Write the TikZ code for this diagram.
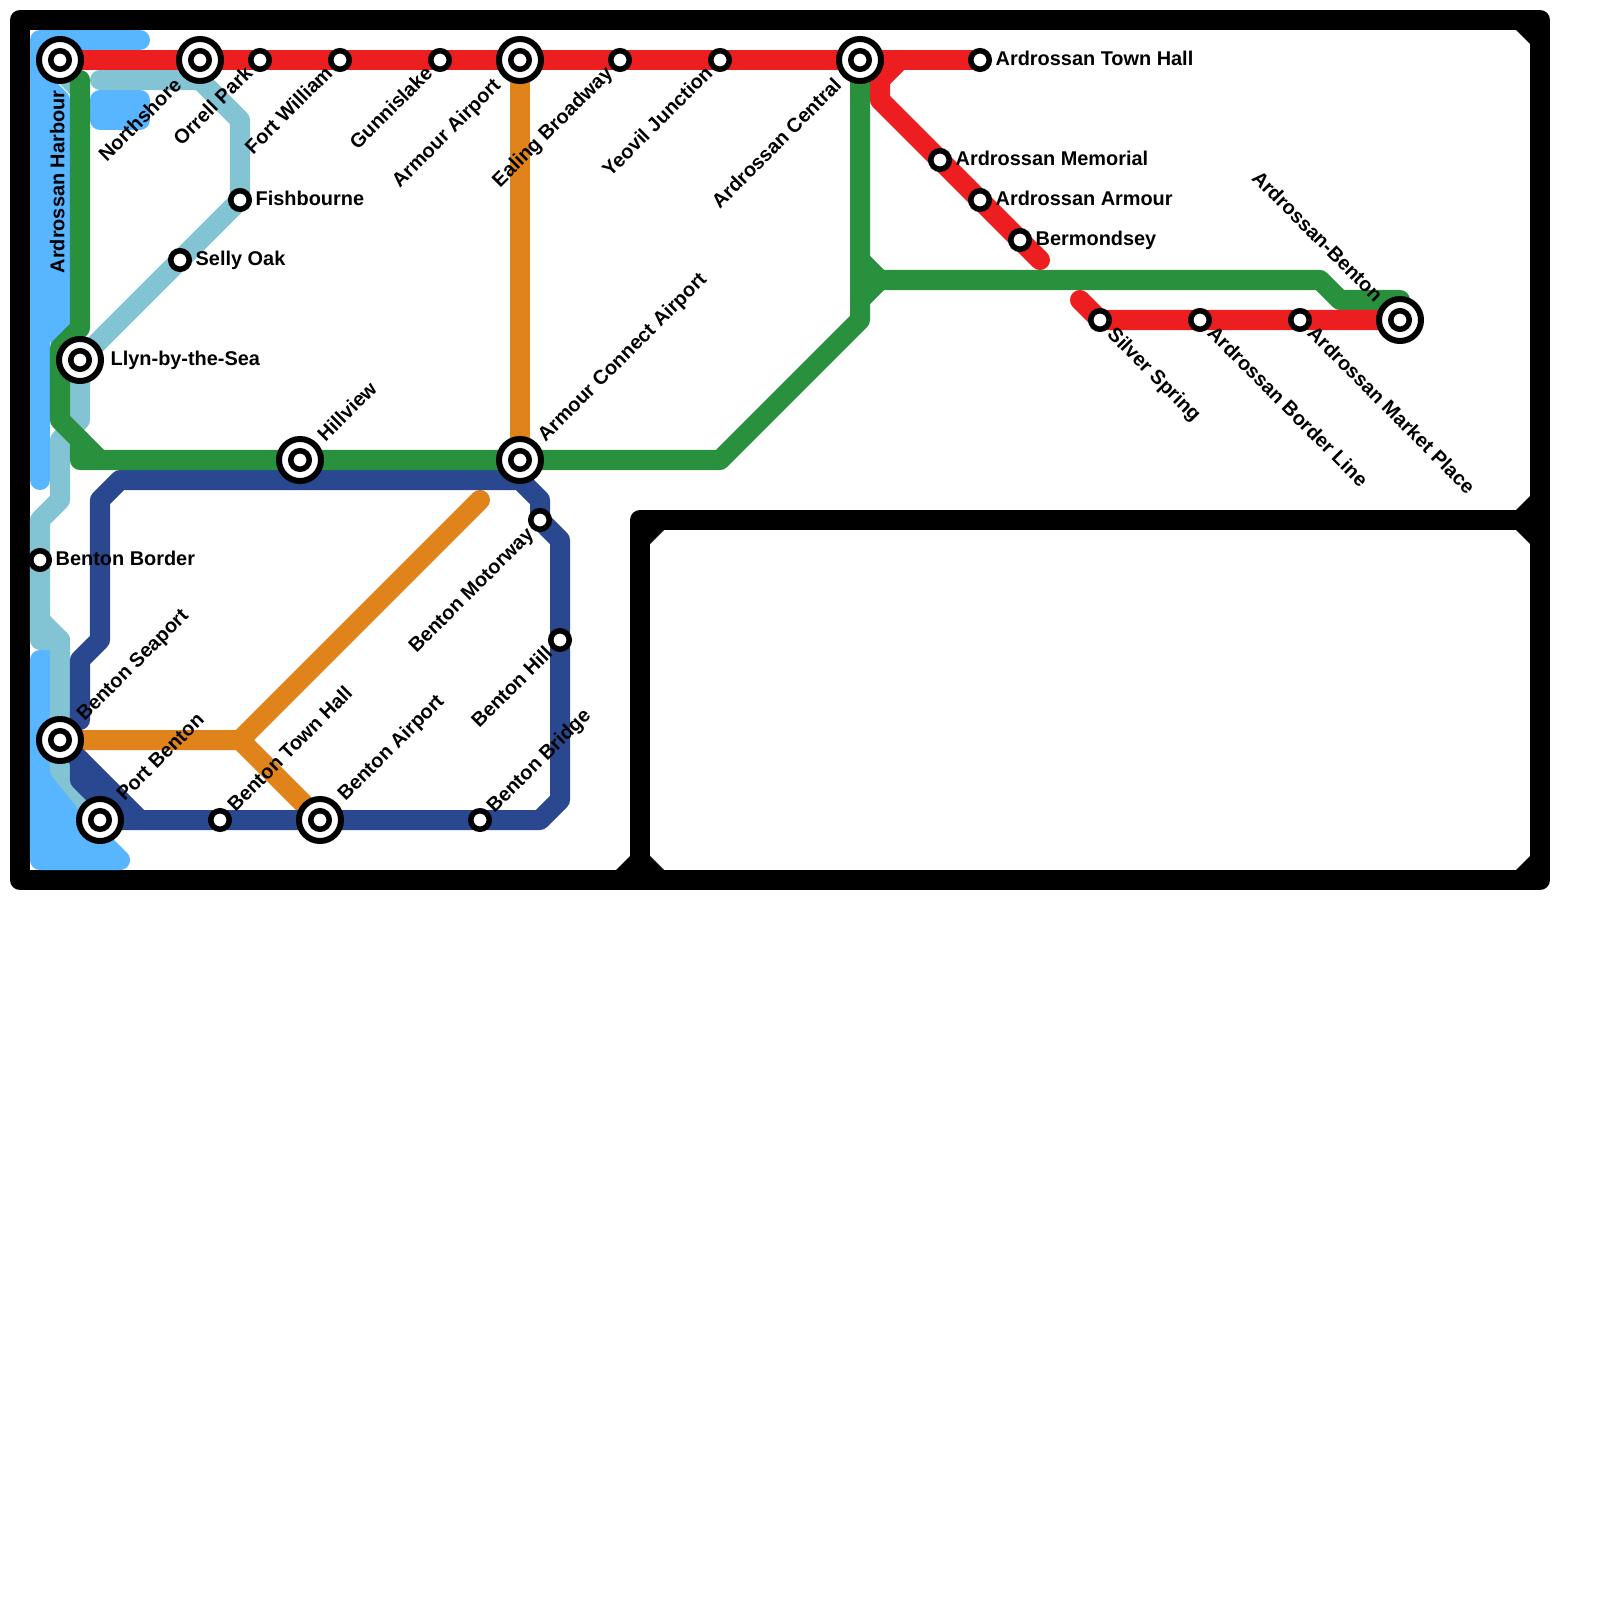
\documentclass[tikz,border=0pt]{standalone}
\usepackage{fontspec}
\setmainfont{Liberation Sans}
\usetikzlibrary{backgrounds}
\definecolor{waterline}{HTML}{58B5FF}
\definecolor{tealline}{HTML}{82C4D4}
\definecolor{greenline}{HTML}{29903D}
\definecolor{redline}{HTML}{EC1E20}
\definecolor{orangeline}{HTML}{E0831A}
\definecolor{navyline}{HTML}{29488F}
\tikzset{
  track/.style={line width=0.2cm,line cap=round,line join=round},
  stop/.style={circle,draw=black,fill=white,line width=0.055cm,minimum size=0.185cm,inner sep=0pt},
  hub/.style={circle,draw=black,fill=white,line width=0.06cm,minimum size=0.42cm,inner sep=0pt,
    label={[hubcore]center:}},
  hubcore/.style={circle,draw=black,fill=white,line width=0.055cm,minimum size=0.185cm,inner sep=0pt},
  tag/.style={inner sep=0pt,font=\fontsize{5.66pt}{7pt}\selectfont\bfseries,text height=1.45mm,text depth=0mm},
  chamfer/.style={fill=black}
}
\begin{document}
\begin{tikzpicture}[x=0.01cm,y=-0.01cm]
  \useasboundingbox (0,0) rectangle (1600,1600);

  % Stations on the top line
  \node[hub] (harbour) at (60,60) {};
  \node[hub] (northshore) at (200,60) {};
  \node[stop] (orrell) at (260,60) {};
  \node[stop] (fortwilliam) at (340,60) {};
  \node[stop] (gunnislake) at (440,60) {};
  \node[hub] (armour) at (520,60) {};
  \node[stop] (ealing) at (620,60) {};
  \node[stop] (yeovil) at (720,60) {};
  \node[hub] (central) at (860,60) {};
  \node[stop] (townhall) at (980,60) {};
  \node[stop] (memorial) at (940,160) {};
  \node[stop] (ardarmour) at (980,200) {};
  \node[stop] (bermondsey) at (1020,240) {};
  \node[stop] (silver) at (1100,320) {};
  \node[stop] (borderline) at (1200,320) {};
  \node[stop] (market) at (1300,320) {};
  \node[hub] (ardbenton) at (1400,320) {};

  % Stations on the left
  \node[stop] (fishbourne) at (240,200) {};
  \node[stop] (selly) at (180,260) {};
  \node[hub] (llyn) at (80,360) {};
  \node[hub] (hillview) at (300,460) {};
  \node[hub] (connect) at (520,460) {};
  \node[stop] (bentonborder) at (40,560) {};
  \node[hub] (seaport) at (60,740) {};
  \node[hub] (portbenton) at (100,820) {};
  \node[stop] (bentonhall) at (220,820) {};
  \node[hub] (bentonairport) at (320,820) {};
  \node[stop] (bentonbridge) at (480,820) {};
  \node[stop] (bentonhill) at (560,640) {};
  \node[stop] (motorway) at (540,520) {};

  % Labels
  \node[tag,rotate=90,anchor=east] (tagharbour) at (57,90) {Ardrossan Harbour};
  \node[tag,rotate=45,anchor=east] (tagnorthshore) at (178,81) {Northshore};
  \node[tag,rotate=45,anchor=east] (tagorrell) at (249,69) {Orrell Park};
  \node[tag,rotate=45,anchor=east] (tagfort) at (329,69) {Fort William};
  \node[tag,rotate=45,anchor=east] (taggunnislake) at (429,69) {Gunnislake};
  \node[tag,rotate=45,anchor=east] (tagarmour) at (497,81) {Armour Airport};
  \node[tag,rotate=45,anchor=east] (tagealing) at (609,69) {Ealing Broadway};
  \node[tag,rotate=45,anchor=east] (tagyeovil) at (709,69) {Yeovil Junction};
  \node[tag,rotate=45,anchor=east] (tagcentral) at (838,81) {Ardrossan Central};
  \node[tag,anchor=west] (tagtownhall) at (995,58) {Ardrossan Town Hall};
  \node[tag,anchor=west] (tagmemorial) at (955,158) {Ardrossan Memorial};
  \node[tag,anchor=west] (tagardarmour) at (995,198) {Ardrossan Armour};
  \node[tag,anchor=west] (tagbermondsey) at (1035,238) {Bermondsey};
  \node[tag,rotate=-45,anchor=east] (tagardbenton) at (1380,298) {Ardrossan-Benton};
  \node[tag,rotate=-45,anchor=west] (tagsilver) at (1111,330) {Silver Spring};
  \node[tag,rotate=-45,anchor=west] (tagborderline) at (1211,329) {Ardrossan Border Line};
  \node[tag,rotate=-45,anchor=west] (tagmarket) at (1311,329) {Ardrossan Market Place};
  \node[tag,anchor=west] (tagfishbourne) at (255,198) {Fishbourne};
  \node[tag,anchor=west] (tagselly) at (195,258) {Selly Oak};
  \node[tag,anchor=west] (tagllyn) at (110,358) {Llyn-by-the-Sea};
  \node[tag,rotate=45,anchor=west] (taghillview) at (320,438) {Hillview};
  \node[tag,rotate=45,anchor=west] (tagconnect) at (540,438) {Armour Connect Airport};
  \node[tag,anchor=west] (tagbentonborder) at (55,558) {Benton Border};
  \node[tag,rotate=45,anchor=west] (tagseaport) at (79,717) {Benton Seaport};
  \node[tag,rotate=45,anchor=west] (tagport) at (119,797) {Port Benton};
  \node[tag,rotate=45,anchor=west] (taghall) at (230,808) {Benton Town Hall};
  \node[tag,rotate=45,anchor=west] (tagairport) at (340,797) {Benton Airport};
  \node[tag,rotate=45,anchor=west] (tagbridge) at (489,809) {Benton Bridge};
  \node[tag,rotate=45,anchor=east] (tagbentonhill) at (549,649) {Benton Hill};
  \node[tag,rotate=45,anchor=east] (tagmotorway) at (530,530) {Benton Motorway};

  \begin{pgfonlayer}{background}
    \fill[white] (0,0) rectangle (1600,1600);

    % Frame
    \draw[track,black] (20,20) rectangle (1540,880);
    \draw[track,black] (640,880) -- (640,520) -- (1540,520);
    \fill[chamfer] (1516,30) -- (1530,30) -- (1530,44) -- cycle;
    \fill[chamfer] (1516,510) -- (1530,510) -- (1530,496) -- cycle;
    \fill[chamfer] (1516,530) -- (1530,530) -- (1530,544) -- cycle;
    \fill[chamfer] (1516,870) -- (1530,870) -- (1530,856) -- cycle;
    \fill[chamfer] (616,870) -- (630,870) -- (630,856) -- cycle;
    \fill[chamfer] (664,870) -- (650,870) -- (650,856) -- cycle;
    \fill[chamfer] (664,530) -- (650,530) -- (650,544) -- cycle;

    % Water
    \draw[track,waterline] (140,40) -- (40,40) -- (40,480);
    \draw[track,waterline] (40,80) -- (60,100) -- (60,340);
    \draw[track,waterline,fill=waterline] (100,100) -- (140,100) -- (140,120) -- (100,120) -- cycle;
    \draw[track,waterline,fill=waterline] (40,660) -- (40,860) -- (120,860) -- (60,800) -- (60,660) -- cycle;

    % Light line
    \draw[track,tealline] (100,80) -- (200,80) -- (240,120) -- (fishbourne.center) -- (selly.center) -- (llyn.center) -- (80,420) -- (60,440) -- (60,500) -- (40,520) -- (bentonborder.center) -- (40,640) -- (60,640) -- (60,770) -- (portbenton.center);
    \draw[track,tealline] (40,620) -- (60,640);
    \draw[track,tealline] (harbour.center) -- (60,70) -- (80,90);

    % Orange line
    \draw[track,orangeline] (armour.center) -- (connect.center);
    \draw[track,orangeline] (480,500) -- (240,740);
    \draw[track,orangeline] (seaport.center) -- (240,740) -- (bentonairport.center);

    % Navy line
    \draw[track,navyline] (80,720) -- (80,660) -- (100,640) -- (100,500) -- (120,480) -- (520,480) -- (540,500) -- (motorway.center) -- (560,540) -- (bentonhill.center) -- (560,800) -- (540,820) -- (bentonbridge.center) -- (bentonairport.center) -- (bentonhall.center) -- (portbenton.center);
    \draw[track,navyline] (seaport.center) -- (140,820);
    \draw[track,navyline] (80,760) -- (80,780) -- (120,820);

    % Green line
    \draw[track,greenline] (80,80) -- (80,328) -- (60,348) -- (60,420) -- (100,460);
    \draw[track,greenline] (80,440) -- (80,460) -- (hillview.center) -- (connect.center) -- (720,460) -- (860,320) -- (central.center);
    \draw[track,greenline] (860,260) -- (880,280) -- (860,300);
    \draw[track,greenline] (880,280) -- (1320,280) -- (1340,300) -- (1400,300);

    % Red line
    \draw[track,redline] (harbour.center) -- (northshore.center) -- (orrell.center) -- (fortwilliam.center) -- (gunnislake.center) -- (armour.center) -- (ealing.center) -- (yeovil.center) -- (central.center) -- (townhall.center);
    \draw[track,redline] (900,60) -- (880,80) -- (880,100) -- (memorial.center) -- (ardarmour.center) -- (bermondsey.center) -- (1040,260);
    \draw[track,redline] (1080,300) -- (silver.center) -- (borderline.center) -- (market.center) -- (ardbenton.center);
  \end{pgfonlayer}
\end{tikzpicture}
\end{document}
